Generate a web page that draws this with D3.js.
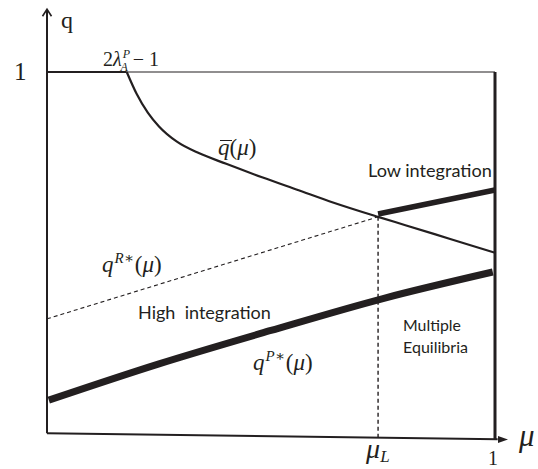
<!DOCTYPE html>
<html>
<head>
<meta charset="utf-8">
<script src="https://cdn.jsdelivr.net/npm/d3@7"></script>
<style>
  html, body { margin: 0; padding: 0; background: #fff; }
  svg { display: block; }
  .serif { font-family: "Liberation Serif", "DejaVu Serif", serif; fill: #231f20; }
  .sans { font-family: Lato, "Open Sans", sans-serif; fill: #231f20; }
</style>
</head>
<body>
<svg id="chart" width="538" height="469"></svg>
<script>
// Threshold value of mu where the two integration regimes meet
const muL = 0.739;
// Point where the upper bound leaves q = 1 (2λ_A^P − 1)
const muKink = 0.178;

// Upper bound q̄(μ)
const qBarMu   = [0.178, 0.20, 0.225, 0.25, 0.29, 0.34, 0.40, 0.48, 0.56, 0.64, 0.739, 0.80, 0.90, 1.00];
const qBarVals = [1.000, 0.940, 0.888, 0.850, 0.808, 0.776, 0.747, 0.710, 0.675, 0.640, 0.601, 0.578, 0.540, 0.502];

// Reform threshold q^{R*}(μ) (dashed)
const qRMu   = [0, muL];
const qRVals = [0.320, 0.601];

// Low-integration branch
const lowMu   = [muL, 1.0];
const lowVals = [0.609, 0.675];

// High-integration equilibrium q^{P*}(μ)
const qPMu   = [0.004, 0.25, 0.50, 0.75, 0.995];
const qPVals = [0.096, 0.196, 0.288, 0.376, 0.449];

// Tick labels
const yTickLabel = "1";
const xTickLabels = [{ v: muL, t: "μ", sub: "L" }, { v: 1, t: "1" }];

// Region labels
const regionLabels = [
  { text: "Low integration",   x: 368, y: 177, width: 124 },
  { text: "High  integration", x: 138, y: 319, width: 133 },
  { text: "Multiple",          x: 403, y: 331, width: 58 },
  { text: "Equilibria",        x: 403, y: 353, width: 65 }
];

const svg = d3.select("#chart");
const x = d3.scaleLinear().domain([0, 1]).range([47, 495]);
const y = d3.scaleLinear().domain([0, 1]).range([435, 72]);
const ink = "#231f20";

const lineGen = d3.line().x(d => x(d[0])).y(d => y(d[1]));
const curveGen = d3.line().x(d => x(d[0])).y(d => y(d[1])).curve(d3.curveMonotoneX);
const zip = (a, b) => a.map((v, i) => [v, b[i]]);

// Axes: vertical q axis with open arrow, horizontal μ axis with filled arrow
svg.append("path")
  .attr("d", lineGen([[0, 0.005], [0, 1.17]]))
  .attr("stroke", ink).attr("stroke-width", 2).attr("fill", "none");
const yTip = [x(0), y(1.17) - 1];
svg.append("path")
  .attr("d", `M${yTip[0] - 4.5},${yTip[1] + 7} L${yTip[0]},${yTip[1]} L${yTip[0] + 4.5},${yTip[1] + 7}`)
  .attr("stroke", ink).attr("stroke-width", 1.6).attr("fill", "none");

const xAxisStart = [0, 0.005], xAxisEnd = [1.006, -0.012];
svg.append("path")
  .attr("d", lineGen([xAxisStart, xAxisEnd]))
  .attr("stroke", ink).attr("stroke-width", 2).attr("fill", "none");
const xTip = [x(1.029), y(-0.0125)];
svg.append("path")
  .attr("d", `M${xTip[0]},${xTip[1]} L${xTip[0] - 10},${xTip[1] - 3.5} L${xTip[0] - 10},${xTip[1] + 3.5} Z`)
  .attr("fill", ink);

// Horizontal line at q = 1 (thicker up to the kink)
svg.append("path")
  .attr("d", lineGen([[muKink, 1], [1, 1]]))
  .attr("stroke", ink).attr("stroke-width", 1.2).attr("fill", "none");
svg.append("path")
  .attr("d", lineGen([[0, 1], [muKink, 1]]))
  .attr("stroke", ink).attr("stroke-width", 2.2).attr("fill", "none");

// Vertical boundary at μ = 1
svg.append("path")
  .attr("d", lineGen([[1, 1.0], [1, -0.011]]))
  .attr("stroke", ink).attr("stroke-width", 3).attr("fill", "none");

// Dashed vertical at μ_L
svg.append("path")
  .attr("d", lineGen([[muL, qRVals[1]], [muL, -0.007]]))
  .attr("stroke", ink).attr("stroke-width", 1.4)
  .attr("stroke-dasharray", "4,3").attr("fill", "none");

// q^{R*}(μ) dashed
svg.append("path")
  .attr("d", lineGen(zip(qRMu, qRVals)))
  .attr("stroke", ink).attr("stroke-width", 1.1)
  .attr("stroke-dasharray", "4,3").attr("fill", "none");

// q̄(μ)
svg.append("path")
  .attr("d", curveGen(zip(qBarMu, qBarVals)))
  .attr("stroke", ink).attr("stroke-width", 2.2).attr("fill", "none");

// Low-integration branch
svg.append("path")
  .attr("d", lineGen(zip(lowMu, lowVals)))
  .attr("stroke", ink).attr("stroke-width", 5.5).attr("fill", "none");

// High-integration equilibrium
svg.append("path")
  .attr("d", curveGen(zip(qPMu, qPVals)))
  .attr("stroke", ink).attr("stroke-width", 7).attr("fill", "none");

// ---- Text ----
// Axis names
svg.append("text").attr("class", "serif").attr("x", 61).attr("y", 28)
  .attr("font-size", 24).text("q");
svg.append("text").attr("class", "serif").attr("x", 519).attr("y", 446)
  .attr("font-size", 31).attr("font-style", "italic").text("μ");

// y tick
svg.append("text").attr("class", "serif").attr("x", 14).attr("y", 80)
  .attr("font-size", 25).text(yTickLabel);

// x ticks
xTickLabels.forEach(d => {
  const t = svg.append("text").attr("class", "serif");
  if (d.sub) {
    t.attr("x", x(d.v) - 12).attr("y", 458).attr("font-size", 28).attr("font-style", "italic");
    t.append("tspan").text(d.t);
    t.append("tspan").attr("dy", 4).attr("font-size", 17).text(d.sub);
  } else {
    t.attr("x", x(d.v) - 7).attr("y", 465).attr("font-size", 20).text(d.t);
  }
});

// 2λ_A^P − 1
const kinkLabel = svg.append("text").attr("class", "serif").attr("x", 103).attr("y", 66).attr("font-size", 20);
kinkLabel.append("tspan").text("2");
kinkLabel.append("tspan").attr("font-style", "italic").text("λ");
kinkLabel.append("tspan").attr("font-size", 12).attr("font-style", "italic").attr("dy", -8).attr("dx", 1).text("P");
kinkLabel.append("tspan").attr("font-size", 12).attr("font-style", "italic").attr("dy", 13).attr("dx", -8).text("A");
kinkLabel.append("tspan").attr("dy", -5).attr("dx", 5).text("− 1");

// q̄(μ)
const qBarLabel = svg.append("text").attr("class", "serif").attr("x", 218).attr("y", 155).attr("font-size", 23);
qBarLabel.append("tspan").attr("font-style", "italic").text("q");
qBarLabel.append("tspan").text("(");
qBarLabel.append("tspan").attr("font-style", "italic").text("μ");
qBarLabel.append("tspan").text(")");
svg.append("line").attr("x1", 220).attr("x2", 232).attr("y1", 140.5).attr("y2", 140.5)
  .attr("stroke", ink).attr("stroke-width", 1);

// q^{R*}(μ), q^{P*}(μ)
function supLabel(px, py, sup) {
  const t = svg.append("text").attr("class", "serif").attr("x", px).attr("y", py).attr("font-size", 23);
  t.append("tspan").attr("font-style", "italic").text("q");
  t.append("tspan").attr("font-size", 15).attr("font-style", "italic").attr("dy", -9).attr("dx", 1).text(sup);
  t.append("tspan").attr("dy", 9).attr("dx", 1).text("(");
  t.append("tspan").attr("font-style", "italic").text("μ");
  t.append("tspan").text(")");
}
supLabel(102, 272, "R∗");
supLabel(253, 370, "P∗");

// Region labels, sized to their widths
regionLabels.forEach(d => {
  const t = svg.append("text").attr("class", "sans")
    .attr("x", d.x).attr("y", d.y).attr("font-size", 16)
    .style("white-space", "pre").text(d.text);
  const w = t.node().getComputedTextLength();
  t.attr("font-size", 16 * d.width / w);
});
</script>
</body>
</html>
